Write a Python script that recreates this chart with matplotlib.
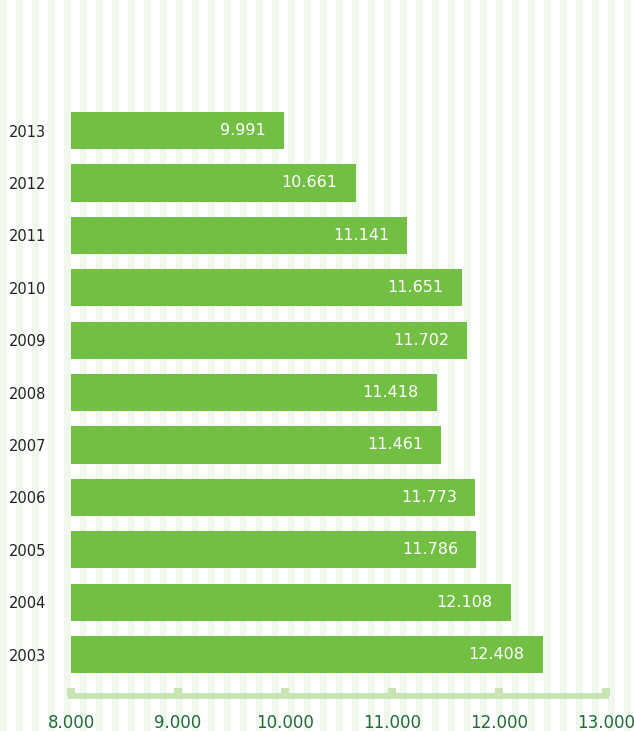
"""Horizontal bar chart of yearly figures, 2003-2013"""

from matplotlib import pyplot as plt
from matplotlib.ticker import FuncFormatter

years = ["2003", "2004", "2005", "2006", "2007", "2008",
         "2009", "2010", "2011", "2012", "2013"]
values = [12408, 12108, 11786, 11773, 11461, 11418,
          11702, 11651, 11141, 10661, 9991]
xticks = [8000, 9000, 10000, 11000, 12000, 13000]

BAR_GREEN = "#72BF44"
AXIS_GREEN = "#C8E4B4"
STRIPE = "#F0F7EC"
LABEL_GREEN = "#1F6B3C"


def dotted(v, pos=None):
    return f"{int(v):,}".replace(",", ".")


fig = plt.figure(figsize=(6.34, 7.31), dpi=100, facecolor="white")

# striped backdrop over the whole figure
bg = fig.add_axes([0, 0, 1, 1], zorder=0)
bg.set_xlim(0, 634)
bg.set_ylim(0, 731)
bg.axis("off")
for x0 in range(0, 634, 16):
    bg.axvspan(x0, x0 + 7, color=STRIPE, lw=0)

ax = fig.add_axes([71 / 634, 35 / 731, 535 / 634, 591.7 / 731], zorder=1)
ax.set_facecolor("none")

pos = list(range(len(years)))
bars = ax.barh(pos, values, height=0.71, color=BAR_GREEN, zorder=2)

for p, v in zip(pos, values):
    ax.annotate(dotted(v), (v, p), xytext=(-13, 0), textcoords="offset points",
                ha="right", va="center", color="white", fontsize=11.5, zorder=3)

ax.set_xlim(8000, 13000)
ax.set_ylim(-0.79, 10.5)
ax.set_xticks(xticks)
ax.xaxis.set_major_formatter(FuncFormatter(dotted))
ax.set_yticks(pos)
ax.set_yticklabels(years)

for side in ("top", "right", "left"):
    ax.spines[side].set_visible(False)
ax.spines["bottom"].set_color(AXIS_GREEN)
ax.spines["bottom"].set_linewidth(4.3)
ax.spines["bottom"].set_zorder(0.5)

ax.tick_params(axis="x", direction="in", length=6, width=5.8, color=AXIS_GREEN,
               labelcolor=LABEL_GREEN, labelsize=12, pad=13)
ax.tick_params(axis="y", length=0, pad=18, labelcolor="#222222", labelsize=10.5)

fig.savefig("out.png", dpi=100)
